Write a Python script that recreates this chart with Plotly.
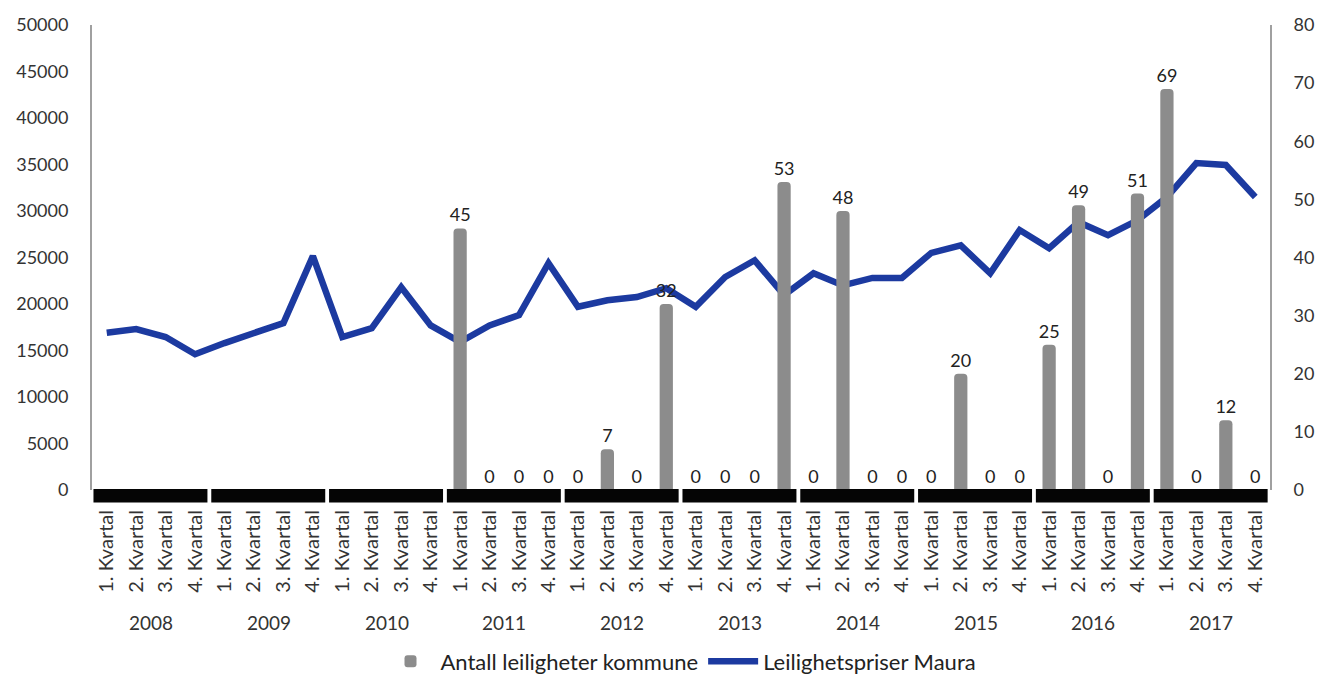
import plotly.graph_objects as go

years = ["2008", "2009", "2010", "2011", "2012", "2013", "2014", "2015", "2016", "2017"]
quarters = ["1. Kvartal", "2. Kvartal", "3. Kvartal", "4. Kvartal"]

# Leilighetspriser Maura (kr per m2), one value per quarter 2008-2017
prices = [
    16900, 17300, 16450, 14600,
    15800, 16900, 17950, 25150,
    16450, 17400, 21800, 17700,
    15900, 17700, 18800, 24400,
    19700, 20400, 20750, 21700,
    19700, 22900, 24700, 20950,
    23300, 22000, 22800, 22800,
    25500, 26300, 23300, 27950,
    26000, 28800, 27400, 29000,
    31500, 35150, 34950, 31500,
]

# Antall leiligheter kommune (no data before 2011)
units = [
    None, None, None, None,
    None, None, None, None,
    None, None, None, None,
    45, 0, 0, 0,
    0, 7, 0, 32,
    0, 0, 0, 53,
    0, 48, 0, 0,
    0, 20, 0, 0,
    25, 49, 0, 51,
    69, 0, 12, 0,
]

n_q = len(quarters)
idx = list(range(len(years) * n_q))
quarter_labels = [q for _ in years for q in quarters]
period_names = [f"{y} {q}" for y in years for q in quarters]

FONT = "Lato, 'Open Sans', sans-serif"
TEXT = "#333333"

fig = go.Figure()

fig.add_trace(go.Bar(
    x=idx,
    y=units,
    name="Antall leiligheter kommune",
    yaxis="y2",
    hovertext=period_names,
    marker=dict(color="#8c8c8c", line=dict(width=0), cornerradius=4),
    width=0.45,
    text=[("" if v is None else str(v)) for v in units],
    textposition="outside",
    constraintext="none",
    textfont=dict(size=18, color="#222222", family=FONT),
    cliponaxis=False,
))

fig.add_trace(go.Scatter(
    x=idx,
    y=prices,
    name="Leilighetspriser Maura",
    hovertext=period_names,
    mode="lines",
    line=dict(color="#1c3aa0", width=6.5),
))

# Black base band under the category axis, one segment per year,
# and the year label centred under each group of quarters
shapes = []
annotations = []
for i, yr in enumerate(years):
    first = n_q * i
    last = n_q * i + n_q - 1
    shapes.append(dict(
        type="rect",
        xref="x", yref="paper",
        x0=first - 0.45, x1=last + 0.42,
        y0=-0.027, y1=0.002,
        fillcolor="#050505",
        line=dict(width=0),
        layer="above",
    ))
    annotations.append(dict(
        x=(first + last) / 2, xref="x",
        y=-0.284, yref="paper",
        text=yr,
        showarrow=False,
        xanchor="center", yanchor="middle",
        font=dict(size=19, color=TEXT, family=FONT),
    ))

fig.update_layout(
    width=1317,
    height=675,
    margin=dict(l=92, r=47, t=25, b=185, autoexpand=False),
    paper_bgcolor="white",
    plot_bgcolor="white",
    font=dict(family=FONT, size=18, color=TEXT),
    showlegend=True,
    legend=dict(
        orientation="h",
        x=0.5, xanchor="center",
        yref="container",
        y=0.02, yanchor="middle",
        font=dict(size=22, color="#222222"),
        traceorder="normal",
        itemwidth=50,
    ),
    shapes=shapes,
    annotations=annotations,
    xaxis=dict(
        range=[-0.5, len(idx) - 0.5],
        tickmode="array",
        tickvals=idx,
        ticktext=quarter_labels,
        showline=False,
        zeroline=False,
        ticks="",
        tickangle=-90,
        tickfont=dict(size=20, color=TEXT),
        ticklabelstandoff=15,
        showgrid=False,
        automargin=False,
    ),
    yaxis=dict(
        range=[0, 50000],
        dtick=5000,
        tickformat="d",
        showgrid=False,
        zeroline=False,
        showline=True,
        linecolor="#a0a0a0",
        linewidth=2,
        ticks="",
        ticklabelstandoff=18,
        tickfont=dict(size=18, color=TEXT),
        automargin=False,
    ),
    yaxis2=dict(
        range=[0, 80],
        dtick=10,
        overlaying="y",
        side="right",
        showgrid=False,
        zeroline=False,
        showline=True,
        linecolor="#a0a0a0",
        linewidth=2,
        ticks="",
        ticklabelstandoff=18,
        tickfont=dict(size=18, color=TEXT),
        automargin=False,
    ),
)

fig.write_html("out.html")
